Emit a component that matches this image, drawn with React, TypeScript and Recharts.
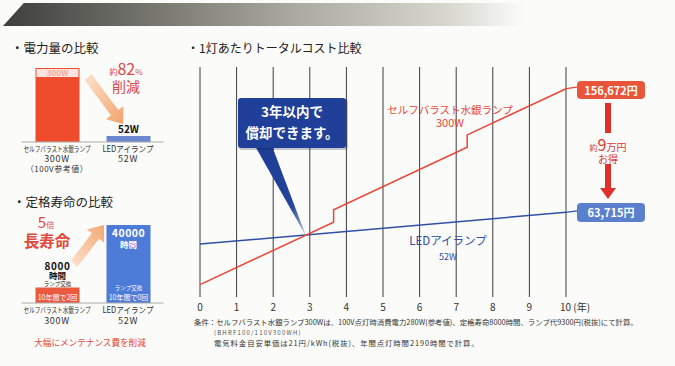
import React from 'react';
import {
  LineChart, Line, XAxis, YAxis, CartesianGrid, BarChart, Bar, LabelList, Cell, ReferenceLine,
} from 'recharts';

const FONT = "'Noto Sans CJK JP', 'Noto Sans', sans-serif";

// ---- total cost chart data ----
const yearTicks = [0, 1, 2, 3, 4, 5, 6, 7, 8, 9, 10];
const mercuryYears = [0, 3.65, 3.65, 7.3, 7.3, 10];
const mercuryCost = [9300, 56302, 65602, 112604, 121904, 156672];
const ledYears = [0, 10];
const ledCost = [39800, 63715];
const mercuryTotalLabel = '156,672円';
const ledTotalLabel = '63,715円';

// ---- comparison panels data ----
const lampNames = ['セルフバラスト水銀ランプ', 'LEDアイランプ'];
const lampWattLabels = ['300W', '52W'];
const powerWatts = [300, 52];
const ratedLifeHours = [8000, 40000];
const lampChangesIn10y = [2, 0];

const mercuryData = mercuryYears.map((x, i) => ({ x, y: mercuryCost[i] }));
const ledData = ledYears.map((x, i) => ({ x, y: ledCost[i] }));
const powerData = lampNames.map((name, i) => ({ name, watts: powerWatts[i], sub: lampWattLabels[i] }));
const lifeData = lampNames.map((name, i) => ({ name, hours: ratedLifeHours[i], changes: lampChangesIn10y[i], sub: lampWattLabels[i] }));

const RED = '#e8473a';
const BLUE = '#2f4fa6';

const YearTick = (p: any) => {
  const x = Number(p.x), y = Number(p.y), v = p.payload.value;
  if (v === 10) {
    return (
      <text x={x - 6} y={y + 14} textAnchor="start" fontSize={10} fill="#333" fontFamily={FONT}>
        10 (年)
      </text>
    );
  }
  return (
    <text x={x} y={y + 14} textAnchor="middle" fontSize={10} fill="#333" fontFamily={FONT}>
      {v}
    </text>
  );
};

const NameText = ({ x, y, i, name }: any) => (
  <text x={x} y={y} fontSize={i === 0 ? 7.5 : 8.5} textLength={i === 0 ? 67 : 51} lengthAdjust="spacingAndGlyphs">
    {name}
  </text>
);

const PowerTick = (p: any) => {
  const x = Number(p.x), y = Number(p.y);
  const i = lampNames.indexOf(p.payload.value);
  return (
    <g fontFamily={FONT} fill="#333" textAnchor="middle">
      <NameText x={x} y={y + 9.5} i={i} name={p.payload.value} />
      <text x={x} y={y + 19.5} fontSize={9} letterSpacing={0.7}>{lampWattLabels[i]}</text>
      {i === 0 && <text x={x} y={y + 29.5} fontSize={8} letterSpacing={0.5}>（100V参考値）</text>}
    </g>
  );
};

const LifeTick = (p: any) => {
  const x = Number(p.x), y = Number(p.y);
  const i = lampNames.indexOf(p.payload.value);
  return (
    <g fontFamily={FONT} fill="#333" textAnchor="middle">
      <NameText x={x} y={y + 10} i={i} name={p.payload.value} />
      <text x={x} y={y + 20.5} fontSize={9} letterSpacing={0.7}>{lampWattLabels[i]}</text>
    </g>
  );
};

const PowerLabel = (p: any) => {
  const x = Number(p.x), y = Number(p.y), w = Number(p.width), v = p.value;
  const cx = x + w / 2;
  if (v === powerWatts[0]) {
    return (
      <g>
        <rect x={x + 1} y={y + 1} width={w - 2} height={8} fill="#fff" opacity={0.85} />
        <text x={cx} y={y + 8} textAnchor="middle" fontSize={8} fontWeight={700} fill="#f5a898" fontFamily={FONT}>{v}W</text>
      </g>
    );
  }
  return (
    <text x={cx} y={y - 3} textAnchor="middle" fontSize={10} fontWeight={700} fill="#111" fontFamily={FONT}>{v}W</text>
  );
};

const LifeLabel = (p: any) => {
  const x = Number(p.x), y = Number(p.y), w = Number(p.width), h = Number(p.height), v = p.value;
  const cx = x + w / 2;
  const i = ratedLifeHours.indexOf(v);
  const bottom = y + h;
  if (i === 0) {
    return (
      <g fontFamily={FONT} textAnchor="middle">
        <text x={cx} y={y - 17.5} fontSize={10} fontWeight={700} fill="#111" letterSpacing={0.6}>{v}</text>
        <text x={cx} y={y - 8} fontSize={8.5} fontWeight={700} fill="#111">時間</text>
        <text x={cx} y={y - 1} fontSize={5.5} fill="#222">ランプ交換</text>
        <text x={cx} y={bottom - 3} fontSize={7} fill="#fff">10年間で{lampChangesIn10y[i]}回</text>
      </g>
    );
  }
  return (
    <g fontFamily={FONT} textAnchor="middle" fill="#fff">
      <text x={cx} y={y + 12} fontSize={10.5} fontWeight={700} letterSpacing={0.5}>{v}</text>
      <text x={cx} y={y + 23} fontSize={8.5} fontWeight={700}>時間</text>
      <text x={cx} y={bottom - 13.5} fontSize={5.5}>ランプ交換</text>
      <text x={cx} y={bottom - 3} fontSize={7}>10年間で{lampChangesIn10y[i]}回</text>
    </g>
  );
};

function arrowPoints(x1: number, y1: number, x2: number, y2: number, sw: number, hw: number, hl: number) {
  const dx = x2 - x1, dy = y2 - y1;
  const len = Math.sqrt(dx * dx + dy * dy);
  const ux = dx / len, uy = dy / len;
  const nx = -uy, ny = ux;
  const bx = x2 - ux * hl, by = y2 - uy * hl;
  const pts = [
    [x1 + nx * sw / 2, y1 + ny * sw / 2],
    [bx + nx * sw / 2, by + ny * sw / 2],
    [bx + nx * hw / 2, by + ny * hw / 2],
    [x2, y2],
    [bx - nx * hw / 2, by - ny * hw / 2],
    [bx - nx * sw / 2, by - ny * sw / 2],
    [x1 - nx * sw / 2, y1 - ny * sw / 2],
  ];
  return pts.map((p) => p.join(',')).join(' ');
}

const abs = (left: number, top: number): React.CSSProperties => ({ position: 'absolute', left, top });

export default function App() {
  return (
    <div style={{ position: 'absolute', left: 0, top: 0, width: 675, height: 366, background: '#fbfbf9', overflow: 'hidden', fontFamily: FONT }}>
      {/* top band */}
      <div style={{
        position: 'absolute', left: 3, top: 3, width: 520, height: 23,
        background: 'linear-gradient(90deg, #3e3e3b 0%, #6f6f69 25%, #a8a89e 55%, #d6d6ce 85%, rgba(250,250,248,0) 100%)',
        clipPath: 'polygon(0 100%, 4% 0, 100% 0, 100% 100%)',
      }} />

      {/* titles */}
      <div style={{ ...abs(11, 38), fontSize: 12.5, color: '#222', whiteSpace: 'nowrap' }}>・電力量の比較</div>
      <div style={{ ...abs(13, 192), fontSize: 12.5, color: '#222', whiteSpace: 'nowrap' }}>・定格寿命の比較</div>
      <div style={{ ...abs(187, 39), fontSize: 12, color: '#222', whiteSpace: 'nowrap' }}>・1灯あたりトータルコスト比較</div>

      {/* power comparison bars */}
      <div style={abs(0, 0)}>
        <BarChart width={180} height={180} data={powerData} margin={{ top: 68, right: 16.5, bottom: 0, left: 21.5 }}>
          <XAxis dataKey="name" height={38} axisLine={{ stroke: '#aaa' }} tickLine={false} tickSize={0} tickMargin={0} tick={<PowerTick />} interval={0} />
          <YAxis hide domain={[30, 300]} allowDataOverflow />
          <Bar dataKey="watts" barSize={44} isAnimationActive={false}>
            <Cell fill="#ef4c2e" />
            <Cell fill="#6b87d2" />
            <LabelList dataKey="watts" content={<PowerLabel />} />
          </Bar>
        </BarChart>
      </div>

      {/* rated life bars */}
      <div style={abs(0, 180)}>
        <BarChart width={180} height={160} data={lifeData} margin={{ top: 45, right: 16.5, bottom: 0, left: 21.5 }}>
          <XAxis dataKey="name" height={37} axisLine={{ stroke: '#aaa' }} tickLine={false} tickSize={0} tickMargin={0} tick={<LifeTick />} interval={0} />
          <YAxis hide domain={[0, 40000]} />
          <Bar dataKey="hours" barSize={44} isAnimationActive={false}>
            <Cell fill="#ea5a3e" />
            <Cell fill="#4d7bd8" />
            <LabelList dataKey="hours" content={<LifeLabel />} />
          </Bar>
        </BarChart>
      </div>

      {/* total cost chart */}
      <div style={abs(0, 0)}>
        <LineChart width={675} height={366} margin={{ top: 67, right: 109, bottom: 49, left: 200 }}>
          <CartesianGrid horizontal={false} vertical stroke="#3c3c3c" strokeWidth={1} />
          <XAxis type="number" dataKey="x" domain={[0, 10]} ticks={yearTicks} height={20} axisLine={false} tickLine={false} tickSize={0} tickMargin={0} tick={<YearTick />} interval={0} allowDuplicatedCategory={false} />
          <YAxis type="number" dataKey="y" domain={[0, 173000]} hide />
          <ReferenceLine segment={[{ x: 10, y: mercuryCost[mercuryCost.length - 1] }, { x: 10.3, y: 157800 }]} stroke={RED} strokeWidth={1.3} ifOverflow="visible" />
          <ReferenceLine segment={[{ x: 10, y: ledCost[ledCost.length - 1] }, { x: 10.3, y: 64800 }]} stroke={BLUE} strokeWidth={1.3} ifOverflow="visible" />
          <Line data={ledData} dataKey="y" stroke={BLUE} strokeWidth={1.5} dot={false} isAnimationActive={false} />
          <Line data={mercuryData} dataKey="y" stroke={RED} strokeWidth={1.5} dot={false} isAnimationActive={false} />
        </LineChart>
      </div>

      {/* overlay shapes */}
      <svg width={675} height={366} style={{ position: 'absolute', left: 0, top: 0, pointerEvents: 'none' }}>
        <defs>
          <linearGradient id="org1" x1="0" y1="0" x2="1" y2="1">
            <stop offset="0" stopColor="#fde3cf" />
            <stop offset="1" stopColor="#f3a26a" />
          </linearGradient>
          <linearGradient id="org2" x1="0" y1="1" x2="1" y2="0">
            <stop offset="0" stopColor="#fde3cf" />
            <stop offset="1" stopColor="#f3a872" />
          </linearGradient>
          <linearGradient id="tail" x1="0" y1="0" x2="1" y2="1">
            <stop offset="0" stopColor="#1d3b92" />
            <stop offset="0.7" stopColor="#24459c" />
            <stop offset="1" stopColor="#b9c4de" />
          </linearGradient>
        </defs>
        <polygon points={arrowPoints(88, 77, 123, 124, 9, 22, 14)} fill="url(#org1)" />
        <polygon points={arrowPoints(74, 264, 104, 225, 9, 22, 14)} fill="url(#org2)" />
        {/* callout */}
        <polygon points="255,146 272,146 306,236" fill="url(#tail)" />
        <rect x={239} y={99} width={109} height={51} rx={3} fill="#0e1f55" opacity={0.25} />
        <rect x={238} y={98} width={108} height={50} rx={3} fill="#1f3f98" />
        {/* red savings arrow */}
        <rect x={605} y={103} width={6} height={30} fill="#e0302a" />
        <rect x={605} y={164} width={6} height={25} fill="#e0302a" />
        <polygon points="600,188 616,188 608,199" fill="#e0302a" />
        {/* total boxes */}
        <rect x={577} y={81} width={68} height={18} rx={4} fill="#e9553b" />
        <rect x={577} y={203} width={68} height={19} rx={4} fill="#5a80cd" />
      </svg>

      {/* overlay texts */}
      <div style={{ ...abs(238, 101), width: 108, textAlign: 'center', color: '#fff', fontWeight: 700, fontSize: 13.5, lineHeight: '21px', whiteSpace: 'nowrap' }}>
        3年以内で<br />償却できます。
      </div>
      <div style={{ ...abs(577, 81), width: 68, height: 18, lineHeight: '18px', textAlign: 'center', color: '#fff', fontWeight: 700, fontSize: 11 }}>{mercuryTotalLabel}</div>
      <div style={{ ...abs(577, 203), width: 68, height: 19, lineHeight: '19px', textAlign: 'center', color: '#fff', fontWeight: 700, fontSize: 11 }}>{ledTotalLabel}</div>
      <div style={{ ...abs(578, 136), width: 60, textAlign: 'center', color: '#d83a34', whiteSpace: 'nowrap', lineHeight: '16px' }}>
        <span style={{ fontSize: 8 }}>約</span><span style={{ fontSize: 16 }}>9</span><span style={{ fontSize: 10 }}>万円</span>
      </div>
      <div style={{ ...abs(578, 152), width: 60, textAlign: 'center', color: '#d83a34', fontSize: 10, lineHeight: '13px' }}>お得</div>

      <div style={{ ...abs(380, 103), width: 140, textAlign: 'center', color: RED, fontSize: 10.5, lineHeight: '13px', whiteSpace: 'nowrap' }}>
        セルフバラスト水銀ランプ<br /><span style={{ fontSize: 11 }}>300W</span>
      </div>
      <div style={{ ...abs(378, 233), width: 140, textAlign: 'center', color: BLUE, fontSize: 11.5, lineHeight: '15px', whiteSpace: 'nowrap' }}>
        LEDアイランプ<br /><span style={{ fontSize: 9 }}>52W</span>
      </div>

      <div style={{ ...abs(104, 60), width: 44, height: 17, textAlign: 'center', color: '#d9474b', whiteSpace: 'nowrap', lineHeight: '17px' }}>
        <span style={{ fontSize: 8 }}>約</span><span style={{ fontSize: 16 }}>82</span><span style={{ fontSize: 8 }}>%</span>
      </div>
      <div style={{ ...abs(104, 79), width: 44, textAlign: 'center', color: '#d9474b', fontSize: 14, lineHeight: '15px' }}>削減</div>

      <div style={{ ...abs(18, 212), width: 56, textAlign: 'center', color: '#e04a3c', whiteSpace: 'nowrap', lineHeight: '18px' }}>
        <span style={{ fontSize: 15 }}>5</span><span style={{ fontSize: 8 }}>倍</span>
      </div>
      <div style={{ ...abs(17, 230), width: 60, textAlign: 'center', color: '#e04a3c', fontSize: 15.5, fontWeight: 700, lineHeight: '20px' }}>長寿命</div>

      <div style={{ ...abs(28, 336), width: 124, textAlign: 'center', color: '#e04a3c', fontSize: 8.6, lineHeight: '12px', whiteSpace: 'nowrap' }}>大幅にメンテナンス費を削減</div>

      {/* footnote */}
      <div style={{ ...abs(194, 317), color: '#333', fontSize: 7.4, lineHeight: '10px', whiteSpace: 'nowrap' }}>
        条件：セルフバラスト水銀ランプ300Wは、100V点灯時消費電力280W(参考値)、定格寿命8000時間、ランプ代9300円(税抜)にて計算。
      </div>
      <div style={{ ...abs(214, 329), color: '#555', fontSize: 6, lineHeight: '8px', whiteSpace: 'nowrap', letterSpacing: 1.2 }}>(BHRF100/110V300WH)</div>
      <div style={{ ...abs(214, 338), color: '#333', fontSize: 7.4, lineHeight: '10px', whiteSpace: 'nowrap', letterSpacing: 0.9 }}>
        電気料金目安単価は21円/kWh(税抜)、年間点灯時間2190時間で計算。
      </div>
    </div>
  );
}
